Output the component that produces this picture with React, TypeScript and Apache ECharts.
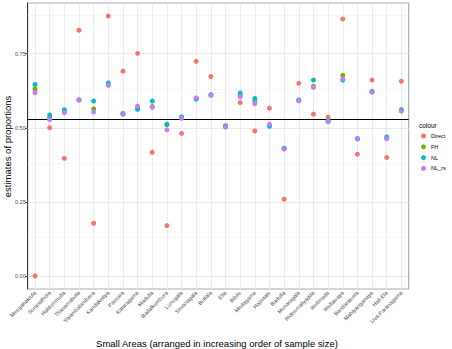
import React, { useEffect, useRef } from "react";
import * as echarts from "echarts";

const areas = [
  "Meegahakiula", "Soranathota", "Haldummulla", "Thanamalwila", "Siyambalanduwa",
  "Kandaketiya", "Passara", "Kataragama", "Madulla", "Badalkumbura", "Lunugala",
  "Sevanagala", "Buttala", "Ella", "Bibile", "Medagama", "Haputale", "Badulla",
  "Monaragala", "Rideemaliyadda", "Welimada", "Wellawaya", "Bandarawela",
  "Mahiyanganaya", "Hali-Ela", "Uva Paranagama",
];

const direct = [0.000, 0.500, 0.397, 0.829, 0.178, 0.877, 0.691, 0.751, 0.417, 0.170, 0.481, 0.724, 0.673, 0.507, 0.585, 0.489, 0.566, 0.259, 0.650, 0.546, 0.536, 0.867, 0.411, 0.661, 0.400, 0.657];
const fh = [0.630, 0.535, 0.555, 0.594, 0.564, 0.645, 0.548, 0.567, 0.572, 0.510, 0.535, 0.598, 0.610, 0.504, 0.610, 0.590, 0.508, 0.430, 0.592, 0.640, 0.522, 0.677, 0.463, 0.621, 0.466, 0.558];
const nl = [0.646, 0.543, 0.561, 0.594, 0.590, 0.651, 0.546, 0.562, 0.590, 0.512, 0.537, 0.597, 0.612, 0.505, 0.617, 0.599, 0.505, 0.431, 0.594, 0.661, 0.524, 0.661, 0.463, 0.623, 0.469, 0.561];
const nlRs = [0.618, 0.528, 0.551, 0.594, 0.553, 0.643, 0.549, 0.573, 0.569, 0.493, 0.532, 0.601, 0.609, 0.502, 0.604, 0.582, 0.512, 0.428, 0.591, 0.636, 0.520, 0.665, 0.464, 0.620, 0.463, 0.556];

const seriesNames = ["Direct", "FH", "NL", "NL_rs"];
const seriesColors = ["#F8766D", "#7CAE00", "#00BFC4", "#C77CFF"];
const yTicks = [0, 0.25, 0.5, 0.75];
const yMinor = [0.125, 0.375, 0.625, 0.875];
const refLine = 0.529;

const FONT = "Liberation Sans, Arial, sans-serif";

export default function App() {
  const ref = useRef<HTMLDivElement>(null);
  useEffect(() => {
    if (!ref.current) return;
    const chart = echarts.init(ref.current, null, { renderer: "svg" });
    const values = [direct, fh, nl, nlRs];
    const option: any = {
      animation: false,
      textStyle: { fontFamily: FONT },
      grid: {
        left: 27.7,
        right: 43.3,
        top: 3,
        bottom: 60,
        show: true,
        borderColor: "#ababab",
        borderWidth: 1.2,
        backgroundColor: "#ffffff",
      },
      xAxis: {
        type: "category",
        data: areas,
        boundaryGap: true,
        axisLine: { show: true, lineStyle: { color: "#333333", width: 1 } },
        axisTick: { show: true, alignWithLabel: true, interval: 0, length: 2.5, lineStyle: { color: "#333333" } },
        axisLabel: {
          interval: 0,
          rotate: 45,
          fontSize: 5.5,
          margin: 3,
          color: "#4d4d4d",
          fontFamily: FONT,
        },
        splitLine: { show: false },
      },
      yAxis: {
        type: "value",
        min: -0.0439,
        max: 0.9209,
        axisLine: { show: true, lineStyle: { color: "#333333", width: 1 } },
        axisTick: { show: true, customValues: yTicks, length: 2.5, lineStyle: { color: "#333333" } },
        axisLabel: {
          customValues: yTicks,
          formatter: (v: number) => v.toFixed(2),
          fontSize: 5.5,
          margin: 2,
          color: "#4d4d4d",
          fontFamily: FONT,
        },
        splitLine: { show: false },
      },
      legend: {
        data: seriesNames,
        orient: "vertical",
        left: 421,
        top: 133,
        padding: 0,
        itemWidth: 5,
        itemHeight: 5,
        itemGap: 4.8,
        icon: "circle",
        textStyle: { fontSize: 5.5, color: "#000", fontFamily: FONT },
      },
      graphic: [
        {
          type: "text",
          x: 217,
          y: 343,
          style: {
            text: "Small Areas (arranged in increasing order of sample size)",
            fontSize: 9.5,
            fontFamily: FONT,
            fill: "#000",
            textAlign: "center",
            textVerticalAlign: "middle",
          },
        },
        {
          type: "text",
          x: 7.5,
          y: 146.5,
          rotation: Math.PI / 2,
          style: {
            text: "estimates of proportions",
            fontSize: 9.5,
            fontFamily: FONT,
            fill: "#000",
            textAlign: "center",
            textVerticalAlign: "middle",
          },
        },
        {
          type: "text",
          x: 419,
          y: 125,
          style: {
            text: "colour",
            fontSize: 6.5,
            fontFamily: FONT,
            fill: "#000",
            textAlign: "left",
            textVerticalAlign: "middle",
          },
        },
      ],
      series: [
        {
          type: "line",
          name: "grid",
          data: [],
          z: 1,
          silent: true,
          markLine: {
            silent: true,
            z: 1,
            symbol: "none",
            animation: false,
            label: { show: false },
            emphasis: { disabled: true },
            data: [
              ...yMinor.map((v) => ({ yAxis: v, lineStyle: { color: "#f2f2f2", width: 0.6, type: "solid" } })),
              ...yTicks.map((v) => ({ yAxis: v, lineStyle: { color: "#ebebeb", width: 1, type: "solid" } })),
              ...areas.map((a) => ({ xAxis: a, lineStyle: { color: "#ebebeb", width: 1, type: "solid" } })),
              { yAxis: refLine, lineStyle: { color: "#000000", width: 1, type: "solid" } },
            ],
          },
        },
        ...seriesNames.map((name, i) => ({
          type: "scatter",
          name,
          data: values[i],
          symbol: "circle",
          symbolSize: 5,
          z: 3 + i,
          itemStyle: { color: seriesColors[i], opacity: 1 },
        })),
      ],
    };
    chart.setOption(option);
    return () => chart.dispose();
  }, []);
  return (
    <div
      ref={ref}
      style={{ position: "fixed", left: 0, top: 0, width: 452, height: 349, background: "#fff" }}
    />
  );
}
